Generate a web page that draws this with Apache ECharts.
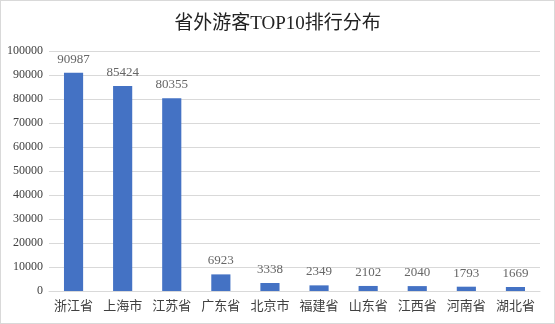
<!DOCTYPE html>
<html>
<head>
<meta charset="utf-8">
<script src="https://cdn.jsdelivr.net/npm/echarts@6/dist/echarts.min.js"></script>
<style>
html,body{margin:0;padding:0;background:#fff;}
#c{width:553px;height:322px;border:1px solid #d9d9d9;}
</style>
</head>
<body>
<div id="c"></div>
<script>
var titleText = '省外游客TOP10排行分布';
var categories = ['浙江省','上海市','江苏省','广东省','北京市','福建省','山东省','江西省','河南省','湖北省'];
var values = [90987, 85424, 80355, 6923, 3338, 2349, 2102, 2040, 1793, 1669];
var yMin = 0, yMax = 100000, yInterval = 10000;

var FONT = '"Liberation Serif", "DejaVu Serif", "Noto Sans CJK SC", serif';
var chart = echarts.init(document.getElementById('c'));
chart.setOption({
  animation: false,
  backgroundColor: '#fff',
  title: {
    text: titleText,
    left: 'center',
    top: 9,
    textStyle: {fontFamily: FONT, fontSize: 19, fontWeight: 'normal', color: '#222'}
  },
  grid: {left: 48, right: 14, top: 50, bottom: 32, containLabel: false},
  xAxis: {
    type: 'category',
    data: categories,
    axisLine: {lineStyle: {color: '#d9d9d9'}},
    axisTick: {show: false},
    axisLabel: {interval: 0, fontFamily: FONT, fontSize: 13, color: '#404040', margin: 9}
  },
  yAxis: {
    type: 'value',
    min: yMin, max: yMax, interval: yInterval,
    axisLine: {show: false},
    axisTick: {show: false},
    splitLine: {lineStyle: {color: '#d9d9d9'}},
    axisLabel: {fontFamily: FONT, fontSize: 12, color: '#404040', margin: 6,
      formatter: function (v) { return String(v); }}
  },
  series: [{
    type: 'bar',
    data: values,
    barWidth: '39%',
    itemStyle: {color: '#4472C4'},
    label: {show: true, position: 'top', distance: 7, fontFamily: FONT, fontSize: 13, color: '#666'}
  }]
});
</script>
</body>
</html>
